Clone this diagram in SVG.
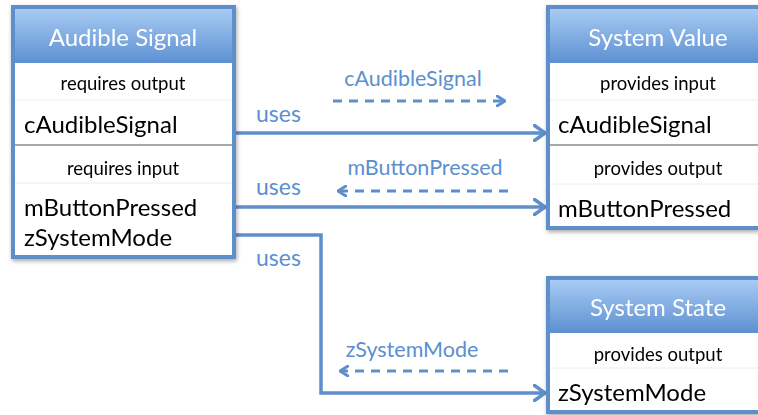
<svg xmlns="http://www.w3.org/2000/svg" width="758" height="415" viewBox="0 0 758 415">
  <defs>
    <linearGradient id="hdr" x1="0" y1="0" x2="0" y2="1">
      <stop offset="0" stop-color="#a7cbf3"/>
      <stop offset="1" stop-color="#5d90d2"/>
    </linearGradient>
    <filter id="shadow" x="-10%" y="-10%" width="130%" height="130%">
      <feGaussianBlur in="SourceAlpha" stdDeviation="2"/>
      <feOffset dx="1" dy="2" result="b"/>
      <feComponentTransfer><feFuncA type="linear" slope="0.35"/></feComponentTransfer>
      <feMerge><feMergeNode/><feMergeNode in="SourceGraphic"/></feMerge>
    </filter>
    <marker id="arrow" viewBox="0 0 14 18" refX="12" refY="9" markerWidth="14" markerHeight="18" markerUnits="userSpaceOnUse" orient="auto">
      <path d="M1.5,1.5 L12,9 L1.5,16.5" fill="none" stroke="#5f8fcb" stroke-width="3.5" stroke-linecap="round" stroke-linejoin="round"/>
    </marker>
    <marker id="arrowSmall" viewBox="0 0 10 12" refX="9" refY="6" markerWidth="10" markerHeight="12" markerUnits="userSpaceOnUse" orient="auto">
      <path d="M1,1 L9,6 L1,11" fill="none" stroke="#5f8fcb" stroke-width="3" stroke-linecap="round" stroke-linejoin="round"/>
    </marker>
  </defs>
  <style>
    .frame { fill: #ffffff; stroke: #5f8fcb; stroke-width: 4; }
    .head { fill: url(#hdr); }
    .light { stroke: #ececec; stroke-width: 1; }
    .dark { stroke: #a8a8a8; stroke-width: 2; }
    .title { font-family: Lato, "Open Sans", sans-serif; font-size: 24px; fill: #ffffff; text-anchor: middle; }
    .sect { font-family: Lato, "Open Sans", sans-serif; font-size: 18.5px; fill: #000000; text-anchor: middle; }
    .item { font-family: Lato, "Open Sans", sans-serif; font-size: 24px; fill: #000000; }
    .lbl { font-family: Lato, "Open Sans", sans-serif; font-size: 21.5px; fill: #5a8fd0; text-anchor: middle; }
    .uses { font-family: Lato, "Open Sans", sans-serif; font-size: 23px; fill: #5a8fd0; }
    .wire { fill: none; stroke: #5f8fcb; stroke-width: 3.5; marker-end: url(#arrow); }
    .flow { fill: none; stroke: #5f8fcb; stroke-width: 3; stroke-dasharray: 9 7; marker-end: url(#arrowSmall); }
  </style>

  <rect width="758" height="415" fill="#ffffff"/>

  <!-- connectors -->
  <g id="connectors">
    <path class="wire" d="M235,133 H545"/>
    <path class="wire" d="M235,207 H545"/>
    <path class="wire" d="M235,235 H321 V393 H545"/>
    <path class="flow" d="M333,101 H505"/>
    <path class="flow" d="M508,191 H338"/>
    <path class="flow" d="M508,371 H340"/>
    <text class="uses" x="256" y="122">uses</text>
    <text class="uses" x="256" y="195">uses</text>
    <text class="uses" x="256" y="266">uses</text>
    <text class="lbl" x="413" y="86">cAudibleSignal</text>
    <text class="lbl" x="425" y="175">mButtonPressed</text>
    <text class="lbl" x="412" y="357">zSystemMode</text>
  </g>

  <!-- Audible Signal -->
  <g id="audible-signal" filter="url(#shadow)">
    <rect class="frame" x="13" y="7" width="221" height="250"/>
    <rect class="head" x="15" y="9" width="217" height="54"/>
    <line class="light" x1="15" y1="100" x2="232" y2="100"/>
    <line class="dark" x1="15" y1="145" x2="232" y2="145"/>
    <line class="light" x1="15" y1="183" x2="232" y2="183"/>
    <text class="title" x="123" y="46">Audible Signal</text>
    <text class="sect" x="123" y="90">requires output</text>
    <text class="item" x="24" y="133">cAudibleSignal</text>
    <text class="sect" x="123" y="175">requires input</text>
    <text class="item" x="24" y="216">mButtonPressed</text>
    <text class="item" x="24" y="246">zSystemMode</text>
  </g>

  <!-- System Value -->
  <g id="system-value" filter="url(#shadow)">
    <rect class="frame" x="548" y="7" width="222" height="221"/>
    <rect class="head" x="550" y="9" width="218" height="54"/>
    <line class="light" x1="550" y1="100" x2="768" y2="100"/>
    <line class="dark" x1="550" y1="145" x2="768" y2="145"/>
    <line class="light" x1="550" y1="184" x2="768" y2="184"/>
    <text class="title" x="658" y="46">System Value</text>
    <text class="sect" x="658" y="90">provides input</text>
    <text class="item" x="558" y="133">cAudibleSignal</text>
    <text class="sect" x="658" y="175">provides output</text>
    <text class="item" x="558" y="217">mButtonPressed</text>
  </g>

  <!-- System State -->
  <g id="system-state" filter="url(#shadow)">
    <rect class="frame" x="548" y="278" width="222" height="134"/>
    <rect class="head" x="550" y="280" width="218" height="53"/>
    <line class="light" x1="550" y1="368" x2="768" y2="368"/>
    <text class="title" x="658" y="316">System State</text>
    <text class="sect" x="658" y="361">provides output</text>
    <text class="item" x="558" y="401">zSystemMode</text>
  </g>
</svg>
